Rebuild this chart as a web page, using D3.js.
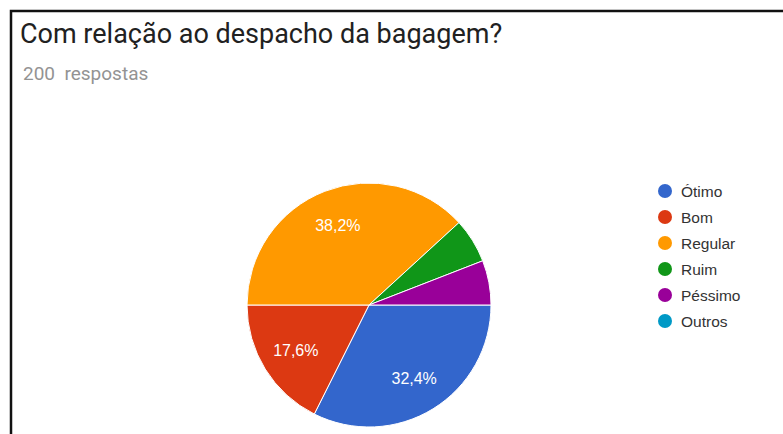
<!DOCTYPE html>
<html>
<head>
<meta charset="utf-8">
<script src="https://cdn.jsdelivr.net/npm/d3@7"></script>
<style>
  html, body { margin: 0; padding: 0; background: #fff; }
  svg { display: block; }
</style>
</head>
<body>
<div id="chart"></div>
<script>
const categories = ['Ótimo', 'Bom', 'Regular', 'Ruim', 'Péssimo', 'Outros'];
const percents = [32.4, 17.6, 38.2, 5.9, 5.9, 0];
const colors = ['#3366CC', '#DC3912', '#FF9900', '#109618', '#990099', '#0099C6'];
const titleText = 'Com relação ao despacho da bagagem?';
const subtitleText = '200  respostas';

const width = 783;
const height = 434;
const cx = 369;
const cy = 305;
const radius = 122;
const labelRadius = 86;
const minLabelPercent = 10;

const svg = d3.select('#chart')
  .append('svg')
  .attr('width', width)
  .attr('height', height);

// card frame (only top + left edge are in view)
svg.append('path')
  .attr('d', `M11,${height} L11,11 L${width},11`)
  .attr('fill', 'none')
  .attr('stroke', '#111')
  .attr('stroke-width', 2.5);

svg.append('text')
  .attr('x', 20)
  .attr('y', 43)
  .attr('font-family', 'Roboto, sans-serif')
  .attr('font-size', 27)
  .attr('fill', '#212121')
  .text(titleText);

svg.append('text')
  .attr('x', 23)
  .attr('y', 80)
  .attr('font-family', 'Roboto, sans-serif')
  .attr('font-size', 19)
  .attr('fill', '#939393')
  .style('white-space', 'pre')
  .text(subtitleText);

const items = categories.map((label, i) => ({label, value: percents[i], color: colors[i]}));

const pie = d3.pie()
  .value(d => d.value)
  .sort(null)
  .startAngle(Math.PI / 2)
  .endAngle(Math.PI / 2 + 2 * Math.PI);

const arc = d3.arc().innerRadius(0).outerRadius(radius);
const labelArc = d3.arc().innerRadius(labelRadius).outerRadius(labelRadius);

const pieGroup = svg.append('g')
  .attr('transform', `translate(${cx}, ${cy})`);

const arcs = pie(items).filter(d => d.data.value > 0);

pieGroup.selectAll('path')
  .data(arcs)
  .join('path')
  .attr('d', arc)
  .attr('fill', d => d.data.color)
  .attr('stroke', '#fff')
  .attr('stroke-width', 1);

pieGroup.selectAll('text')
  .data(arcs.filter(d => d.data.value >= minLabelPercent))
  .join('text')
  .attr('transform', d => `translate(${labelArc.centroid(d)})`)
  .attr('text-anchor', 'middle')
  .attr('dy', '0.36em')
  .attr('font-family', 'Arial, "Liberation Sans", sans-serif')
  .attr('font-size', 16)
  .attr('fill', '#fff')
  .text(d => d.data.value.toFixed(1).replace('.', ',') + '%');

// legend
const legendX = 665;
const legendY = 191;
const legendStep = 26;

const legend = svg.append('g')
  .selectAll('g')
  .data(items)
  .join('g')
  .attr('transform', (d, i) => `translate(${legendX}, ${legendY + i * legendStep})`);

legend.append('circle')
  .attr('r', 7)
  .attr('fill', d => d.color);

legend.append('text')
  .attr('x', 16)
  .attr('dy', '0.36em')
  .attr('font-family', 'Arial, "Liberation Sans", sans-serif')
  .attr('font-size', 15.5)
  .attr('fill', '#333')
  .text(d => d.label);
</script>
</body>
</html>
